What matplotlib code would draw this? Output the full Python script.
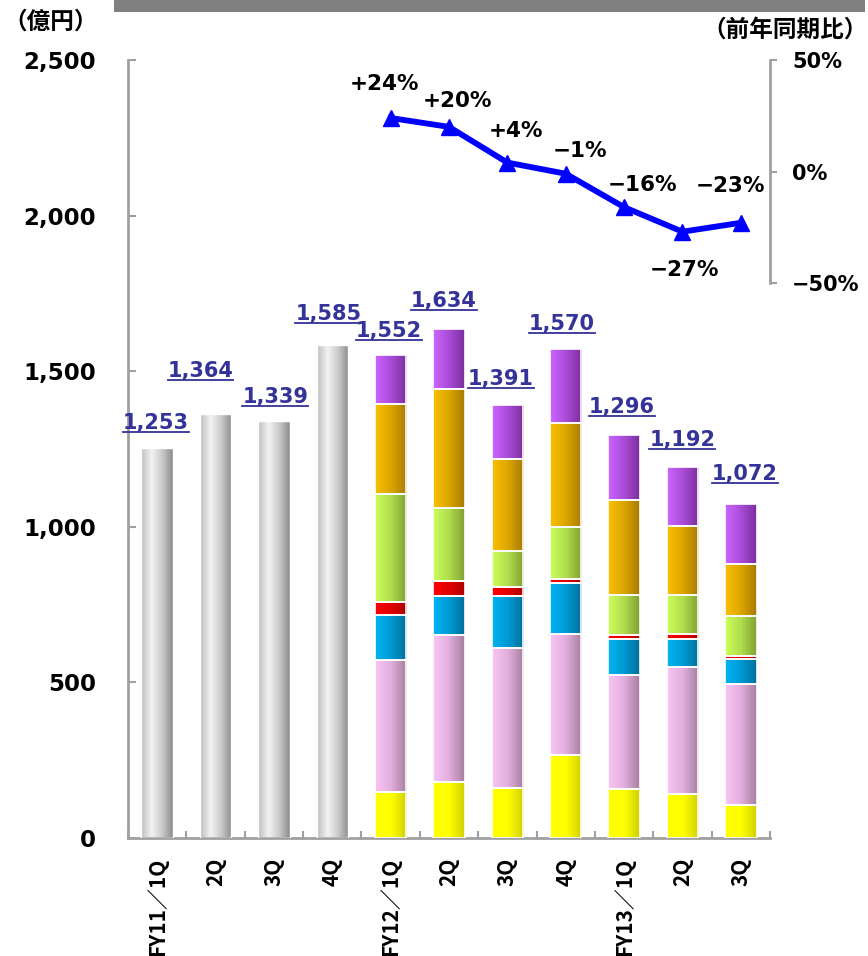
import numpy as np
import matplotlib
matplotlib.use("Agg")
import matplotlib.pyplot as plt
from matplotlib.colors import LinearSegmentedColormap
from matplotlib.lines import Line2D
from matplotlib.patches import Rectangle

plt.rcParams['font.family'] = ['Noto Sans CJK JP', 'DejaVu Sans']
NUM_FONT = ['DejaVu Sans', 'Noto Sans CJK JP']

# ---- data ----
quarters = ["FY11／1Q", "2Q", "3Q", "4Q", "FY12／1Q", "2Q", "3Q", "4Q",
            "FY13／1Q", "2Q", "3Q"]
totals = [1253, 1364, 1339, 1585, 1552, 1634, 1391, 1570, 1296, 1192, 1072]

# segment breakdown for FY12/1Q .. FY13/3Q (bottom to top)
seg_yellow = [148, 180, 161, 267, 157, 141, 106]
seg_pink   = [424, 473, 451, 388, 368, 407, 390]
seg_blue   = [144, 125, 165, 163, 113, 93, 80]
seg_red    = [41, 48, 30, 15, 14, 14, 8]
seg_green  = [349, 235, 115, 167, 128, 126, 129]
seg_orange = [288, 383, 297, 332, 305, 221, 167]
seg_purple = [158, 190, 172, 238, 211, 190, 192]

yoy = [24, 20, 4, -1, -16, -27, -23]   # year-on-year change, FY12/1Q onwards

# ---- layout / style ----
W, H, DPI = 868, 956, 100
fig = plt.figure(figsize=(W / DPI, H / DPI), dpi=DPI)
ax = fig.add_axes([128 / W, 1 - 838 / H, (770 - 128) / W, (838 - 60) / H])

axis_gray = "#A0A0A0"
label_blue = "#333399"
bar_w = 0.54

grad_colors = {
    "gray":   ["#BDBDBD", "#F3F3F3", "#CACACA", "#8C8C8C"],
    "yellow": ["#FFFF00", "#FFFF00", "#CFCF00"],
    "pink":   ["#F8C6F5", "#E2AEDD", "#A57E9E"],
    "blue":   ["#00B4F2", "#009AD4", "#006E9A"],
    "red":    ["#FF0000", "#E00000", "#B00000"],
    "green":  ["#CCFF5A", "#B0DD4C", "#80A032"],
    "orange": ["#F9C000", "#DCA600", "#A87A00"],
    "purple": ["#CD66FF", "#A94CD8", "#7B2E9C"],
}
cmaps = {k: LinearSegmentedColormap.from_list(k, v) for k, v in grad_colors.items()}
ramp = np.linspace(0, 1, 128).reshape(1, -1)


def shade(patches, cname):
    for p in patches:
        x0, y0 = p.get_x(), p.get_y()
        w, h = p.get_width(), p.get_height()
        im = ax.imshow(ramp, cmap=cmaps[cname], aspect="auto",
                       extent=(x0, x0 + w, y0, y0 + h),
                       interpolation="bicubic", zorder=2)
        im.set_clip_path(p)


x = np.arange(len(quarters))

# FY11 bars (plain totals)
gx = x[:4]
gb = ax.bar(gx, totals[:4], width=bar_w, facecolor="none",
            edgecolor="white", linewidth=1, zorder=3)
shade(gb, "gray")

# FY12 onward stacked bars
sx = x[4:]
bottom = np.zeros(len(sx))
for vals, cname in [(seg_yellow, "yellow"), (seg_pink, "pink"),
                    (seg_blue, "blue"), (seg_red, "red"),
                    (seg_green, "green"), (seg_orange, "orange"),
                    (seg_purple, "purple")]:
    bars = ax.bar(sx, vals, width=bar_w, bottom=bottom, facecolor="none",
                  edgecolor="white", linewidth=1.2, zorder=3)
    shade(bars, cname)
    bottom += np.array(vals)

ax.set_xlim(-0.5, len(quarters) - 0.5)
ax.set_ylim(0, 2500)

# spines and ticks
for s in ["top", "right"]:
    ax.spines[s].set_visible(False)
for s in ["left", "bottom"]:
    ax.spines[s].set_color(axis_gray)
    ax.spines[s].set_linewidth(2)

ax.set_yticks(np.arange(0, 2501, 500))
ax.set_yticklabels([f"{v:,}" for v in range(0, 2501, 500)])
ax.tick_params(axis="y", direction="in", length=6, width=1.5, color=axis_gray,
               pad=23, labelsize=16.5)
for t in ax.get_yticklabels():
    t.set_fontweight("bold")
    t.set_family(NUM_FONT)

ax.set_xticks(x)
ax.set_xticklabels(quarters, rotation=90, fontsize=15, fontweight="bold",
                   va="top")
ax.set_xticks(np.arange(-0.5, len(quarters), 1.0), minor=True)
ax.tick_params(axis="x", which="major", length=0, pad=14)
ax.tick_params(axis="x", which="minor", direction="in", length=5, width=1.5,
               color=axis_gray)

# value labels above the bars
lab_dx = [-1.5, -15, 1.5, -4, -2, -5, -6.5, -4, -2, 0, 4]
lab_dy = [16, 34, 15, 22, 15, 19, 17, 16, 19, 18, 21]
val_texts = []
for i, v in enumerate(totals):
    t = ax.annotate(f"{v:,}", xy=(x[i], v), xytext=(lab_dx[i], lab_dy[i] + 3),
                    textcoords="offset pixels", ha="center", va="baseline",
                    fontsize=15, fontweight="bold", color=label_blue,
                    family=NUM_FONT, zorder=5)
    val_texts.append(t)

# year-on-year line on a secondary axis
ax2 = ax.twinx()
ax2.set_ylim(50 - 778 / 2.23, 50)
ax2.spines["top"].set_visible(False)
ax2.spines["left"].set_visible(False)
ax2.spines["bottom"].set_visible(False)
ax2.spines["right"].set_bounds(-50, 50)
ax2.spines["right"].set_color(axis_gray)
ax2.spines["right"].set_linewidth(2)
ax2.set_yticks([-50, 0, 50])
ax2.set_yticklabels(["−50%", "0%", "50%"])
ax2.tick_params(axis="y", direction="out", length=5, width=1.5,
                color=axis_gray, pad=11, labelsize=15)
for t in ax2.get_yticklabels():
    t.set_fontweight("bold")
    t.set_family(NUM_FONT)
    t.set_horizontalalignment("left")

ax2.plot(sx, yoy, color="#0000FF", linewidth=4.2, marker="^", markersize=12,
         zorder=4)
pct_dx = [-6, 8, 9, 14, 18, 2, -10]
pct_dy = [34, 26, 32, 23, 22, -38, 37]
for j, v in enumerate(yoy):
    s = f"+{v}%" if v > 0 else f"−{abs(v)}%"
    ax2.annotate(s, xy=(sx[j], v), xytext=(pct_dx[j], pct_dy[j]),
                 textcoords="offset pixels", ha="center", va="center",
                 fontsize=15.5, fontweight="bold", color="black",
                 family=NUM_FONT)

# header band and unit captions
fig.patches.append(Rectangle((114 / W, 1 - 12 / H), (W - 117) / W, 12 / H,
                             transform=fig.transFigure, facecolor="#808080",
                             edgecolor="none"))
fig.text(3 / W, 1 - 22 / H, "（億円）", fontsize=17, fontweight="bold",
         ha="left", va="center")
fig.text(W / W, 1 - 30 / H, "（前年同期比）", fontsize=17, fontweight="bold",
         ha="right", va="center")

# underline the value labels
fig.canvas.draw()
renderer = fig.canvas.get_renderer()
for t in val_texts:
    bb = t.get_window_extent(renderer)
    base_y = ax.transData.transform((0, t.xy[1]))[1] + t.xyann[1]
    fig.add_artist(Line2D([bb.x0, bb.x1], [base_y - 3, base_y - 3],
                          transform=None, color=label_blue, linewidth=1.3))

fig.savefig("out.png", dpi=DPI)
